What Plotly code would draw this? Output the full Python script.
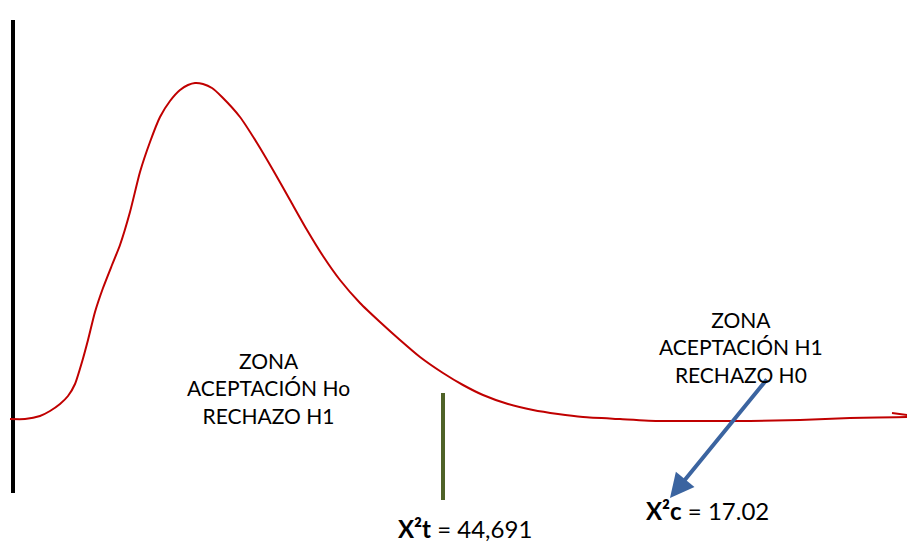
import plotly.graph_objects as go

# Chi-square style curve (in picture units)
curve_x = [10, 25, 40, 50, 60, 68, 75, 82, 88, 95, 103, 112, 120, 130, 140, 150, 160, 170, 180,
           188, 195, 203, 212, 222, 240, 257, 273, 290, 307, 323, 340, 360, 380, 400, 420, 443,
           463, 483, 508, 533, 558, 583, 620, 660, 700, 750, 800, 850, 915]
curve_y = [419, 419, 416, 411, 404, 396, 384, 362, 340, 312, 288, 265, 245, 212, 172, 142, 117, 101, 90,
           85, 83, 84, 88, 97, 117, 143, 170, 200, 230, 256, 280, 303, 322, 340, 357, 373,
           385, 395, 404, 410, 414, 417, 419, 421, 421, 421, 420, 418, 417]

tail_x = [892, 915]
tail_y = [413, 416]

axis_x = [13, 13]
axis_y = [20, 493]

crit_x = [443, 443]
crit_y = [393, 500]

arrow_from = (768, 378)
arrow_to = (670, 498)

left_label = "ZONA<br>ACEPTACIÓN Ho<br>RECHAZO H1"
left_pos = (268, 388)
right_label = "ZONA<br>ACEPTACIÓN H1<br>RECHAZO H0"
right_pos = (741, 347)
chi_t_label = "<b>X²t</b> = 44,691"
chi_t_pos = (465, 528)
chi_c_label = "<b>X²c</b> = 17.02"
chi_c_pos = (707, 510)

FONT = "Lato, Open Sans, sans-serif"
PAGE_OFFSET = 8  # default body margin of the page

fig = go.Figure()
fig.add_trace(go.Scatter(x=axis_x, y=axis_y, mode="lines",
                         line=dict(color="black", width=4), hoverinfo="skip"))
fig.add_trace(go.Scatter(x=curve_x, y=curve_y, mode="lines",
                         line=dict(color="#c00000", width=2, shape="spline", smoothing=0.6),
                         hoverinfo="skip"))
fig.add_trace(go.Scatter(x=tail_x, y=tail_y, mode="lines",
                         line=dict(color="#c00000", width=2), hoverinfo="skip"))
fig.add_trace(go.Scatter(x=crit_x, y=crit_y, mode="lines",
                         line=dict(color="#4f6228", width=4), hoverinfo="skip"))

fig.add_annotation(x=arrow_to[0], y=arrow_to[1], ax=arrow_from[0], ay=arrow_from[1],
                   xref="x", yref="y", axref="x", ayref="y", text="", showarrow=True,
                   arrowhead=2, arrowsize=1.2, arrowwidth=4, arrowcolor="#3b64a0")

for txt, pos in [(left_label, left_pos), (right_label, right_pos)]:
    fig.add_annotation(x=pos[0], y=pos[1], text=txt, showarrow=False, xref="x", yref="y",
                       align="center", font=dict(family=FONT, size=21, color="black"))
for txt, pos in [(chi_t_label, chi_t_pos), (chi_c_label, chi_c_pos)]:
    fig.add_annotation(x=pos[0], y=pos[1], text=txt, showarrow=False, xref="x", yref="y",
                       align="center", font=dict(family=FONT, size=24, color="black"))

W, H = 915, 545
fig.update_layout(
    width=W - PAGE_OFFSET, height=H - PAGE_OFFSET, margin=dict(l=0, r=0, t=0, b=0),
    paper_bgcolor="white", plot_bgcolor="white", showlegend=False,
    xaxis=dict(range=[PAGE_OFFSET, W], visible=False, fixedrange=True),
    yaxis=dict(range=[H, PAGE_OFFSET], visible=False, fixedrange=True),
)
fig.write_html("out.html")
